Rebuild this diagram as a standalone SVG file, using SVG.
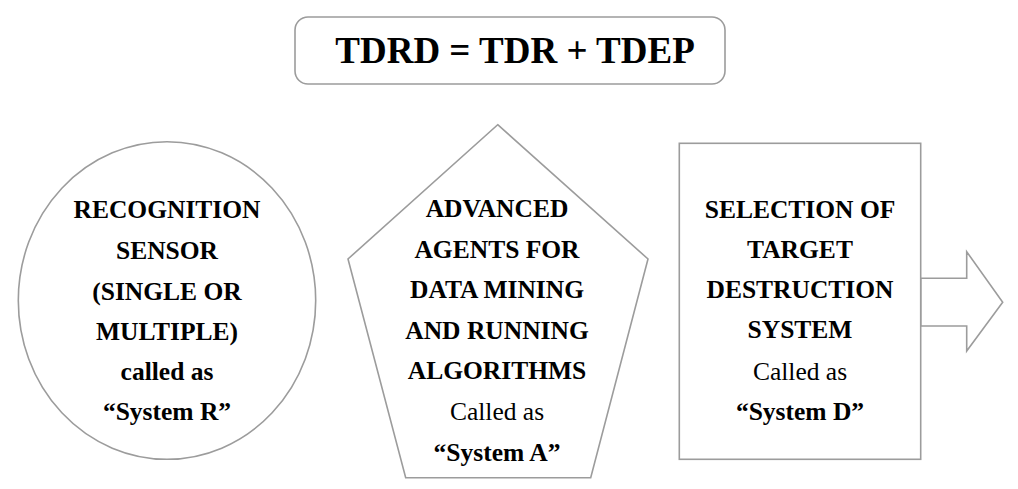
<svg xmlns="http://www.w3.org/2000/svg" width="1018" height="489" viewBox="0 0 1018 489">
<style>
.shape{fill:#fff;stroke:#9c9c9c;stroke-width:1.6}
text{font-family:'Liberation Serif','DejaVu Serif',serif;fill:#000;text-anchor:middle}
.b{font-weight:bold;font-size:25.5px}
.r{font-size:25.5px}
.t{font-weight:bold;font-size:37px}
</style>
<rect width="1018" height="489" fill="#fff"/>
<g id="title">
<rect class="shape" x="295" y="17" width="430" height="67" rx="13"/>
<text class="t" x="515" y="63" font-family="Liberation Serif">TDRD = TDR + TDEP</text>
</g>
<g id="systemR">
<ellipse class="shape" cx="167" cy="300.5" rx="148.7" ry="158.8"/>
<text class="b" x="167" y="218">RECOGNITION</text>
<text class="b" x="167" y="259">SENSOR</text>
<text class="b" x="167" y="300">(SINGLE OR</text>
<text class="b" x="167" y="340">MULTIPLE)</text>
<text class="b" x="167" y="380">called as</text>
<text class="b" x="167" y="420">“System R”</text>
</g>
<g id="systemA">
<polygon class="shape" points="497.7,124.7 648,259 590.7,477.7 405.7,477.7 348,259"/>
<text class="b" x="497" y="217">ADVANCED</text>
<text class="b" x="497" y="258">AGENTS FOR</text>
<text class="b" x="497" y="298">DATA MINING</text>
<text class="b" x="497" y="339">AND RUNNING</text>
<text class="b" x="497" y="379">ALGORITHMS</text>
<text class="r" x="497" y="420">Called as</text>
<text class="b" x="497" y="461">“System A”</text>
</g>
<g id="connectors">
<polygon class="shape" points="920.7,278.3 966.7,278.3 966.7,251.7 1002.7,302.3 966.7,351 966.7,326 920.7,326"/>
</g>
<g id="systemD">
<rect class="shape" x="679.3" y="143.3" width="241.4" height="316"/>
<text class="b" x="800" y="218">SELECTION OF</text>
<text class="b" x="800" y="258">TARGET</text>
<text class="b" x="800" y="298">DESTRUCTION</text>
<text class="b" x="800" y="338">SYSTEM</text>
<text class="r" x="800" y="380">Called as</text>
<text class="b" x="800" y="420">“System D”</text>
</g>
</svg>
